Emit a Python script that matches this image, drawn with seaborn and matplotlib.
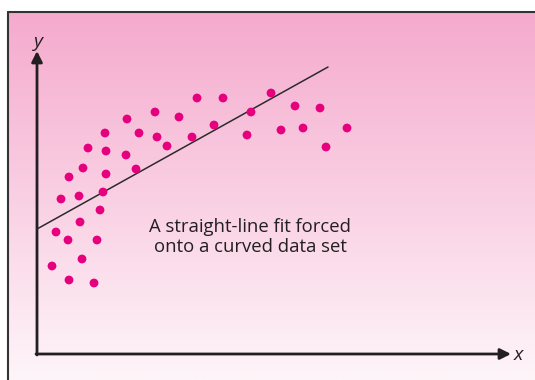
import numpy as np
import pandas as pd
import seaborn as sns
import matplotlib.pyplot as plt

# Data (x measured from the y-axis, y measured up from the x-axis)
x_vals = [68, 102, 120, 155, 51, 69, 89, 130, 46, 32, 69, 99, 24, 42, 66, 63,
          43, 19, 31, 60, 45, 15, 32, 57, 90, 118, 142, 160, 186, 234, 214,
          177, 210, 258, 283, 244, 266, 310, 289]
y_vals = [221, 221, 217, 217, 206, 203, 199, 208, 186, 177, 180, 185, 155, 158,
          162, 144, 132, 122, 114, 114, 95, 88, 74, 71, 235, 242, 237, 256, 256,
          261, 242, 229, 219, 248, 246, 224, 226, 226, 207]
fit_x = [0, 291]
fit_y = [125, 287]
label_text = "A straight-line fit forced\nonto a curved data set"

df = pd.DataFrame({'x': x_vals, 'y': y_vals})
df_fit = pd.DataFrame({'x': fit_x, 'y': fit_y})

sns.set_style('white')
plt.rcParams['font.family'] = ['Open Sans', 'DejaVu Sans']

fig = plt.figure(figsize=(5.35, 3.80), dpi=100)
ax = fig.add_axes([0, 0, 1, 1])
ax.set_xlim(-37, 498)
ax.set_ylim(-26, 354)
ax.axis('off')

# pink gradient panel
grad = np.linspace(0, 1, 256).reshape(-1, 1)
top = np.array([245, 170, 205]) / 255
bot = np.array([254, 245, 249]) / 255
img = top + (bot - top) * grad[:, :, None]
ax.imshow(img, extent=[-29, 498, -26, 342], aspect='auto', zorder=0)
ax.plot([-29, 498], [342, 342], color='#333333', lw=1.5, zorder=1)
ax.plot([-29, -29], [-26, 342], color='#333333', lw=1.5, zorder=1)

# axes arrows
arrow = dict(arrowstyle='-|>', color='#231f20', lw=2, mutation_scale=16,
             shrinkA=0, shrinkB=0)
ax.annotate('', xy=(0, 303), xytext=(0, -1), arrowprops=arrow, zorder=3)
ax.annotate('', xy=(474, 0), xytext=(-1, 0), arrowprops=arrow, zorder=3)
ax.text(1, 312, 'y', style='italic', fontsize=14, color='#231f20',
        ha='center', va='center')
ax.text(481, -1, 'x', style='italic', fontsize=14, color='#231f20',
        ha='center', va='center')

# fitted straight line and data
sns.lineplot(data=df_fit, x='x', y='y', ax=ax, color='#2b2b2b', lw=1.1, zorder=4)
sns.scatterplot(data=df, x='x', y='y', ax=ax, color='#e6007e', s=40,
                edgecolor='none', zorder=5)

ax.text(213, 117, label_text, ha='center', va='center', fontsize=13.3,
        color='#231f20', linespacing=1.1)

fig.savefig('out.png', dpi=100)
